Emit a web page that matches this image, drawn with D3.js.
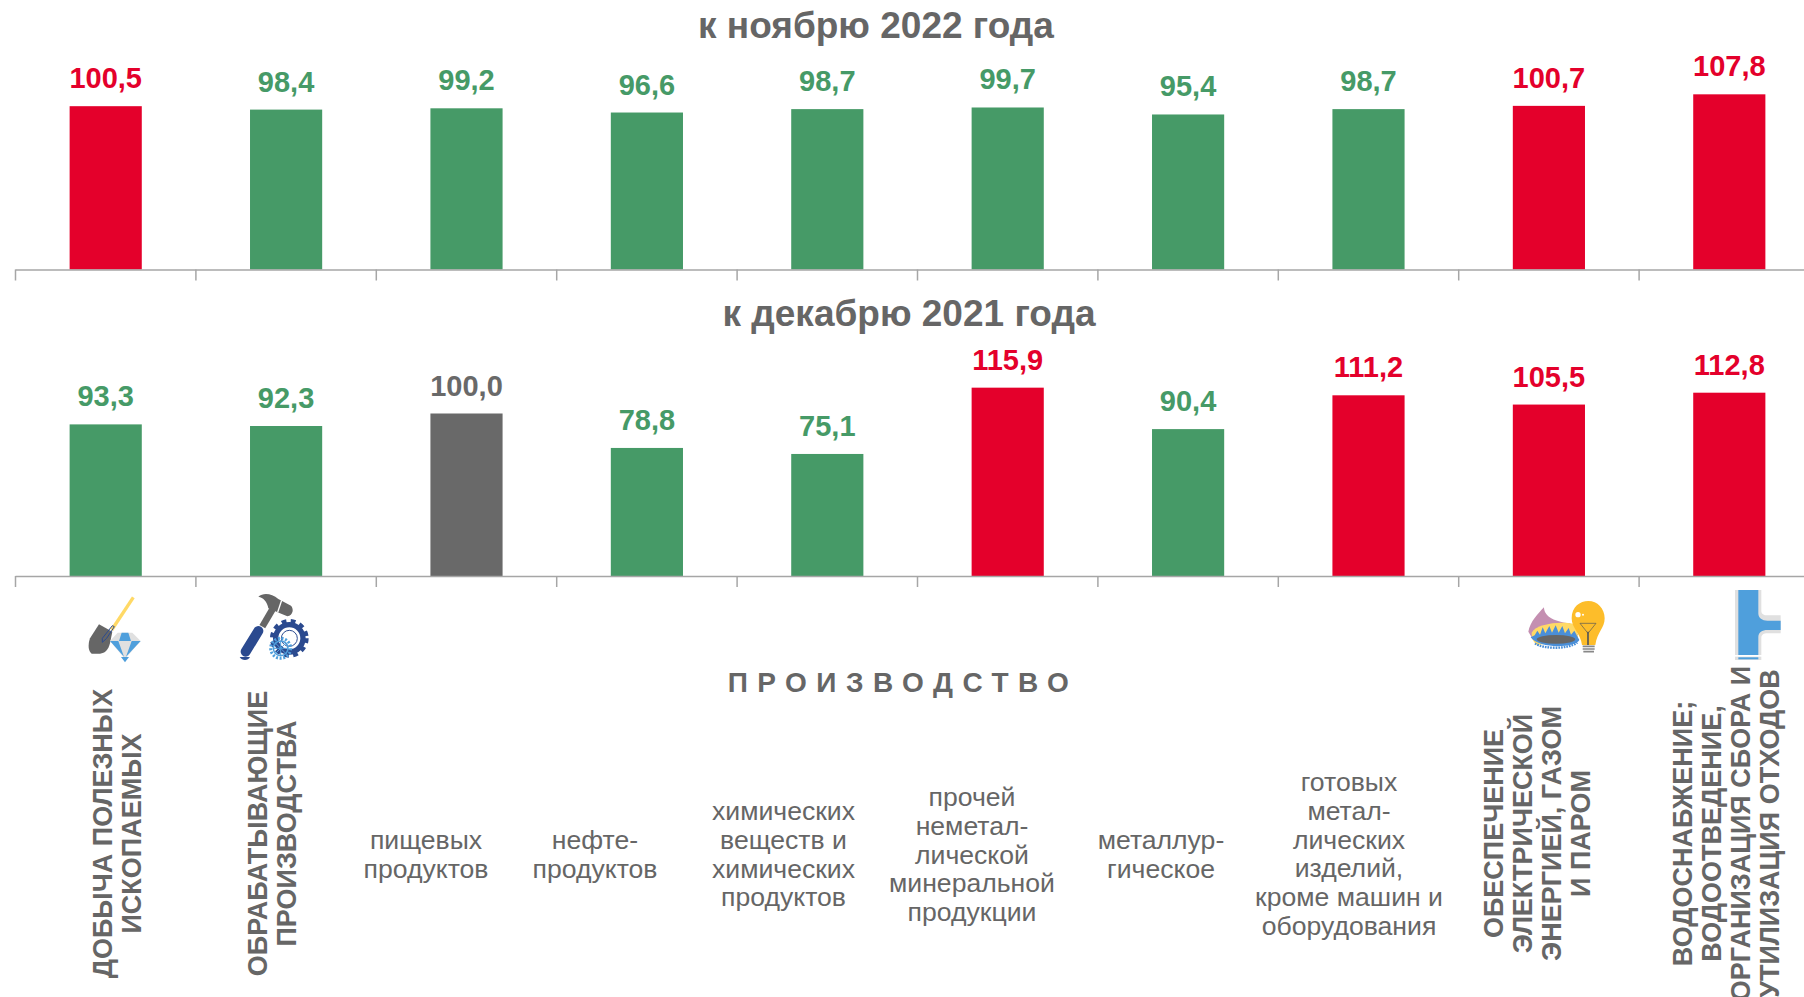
<!DOCTYPE html>
<html>
<head>
<meta charset="utf-8">
<script src="https://cdn.jsdelivr.net/npm/d3@7/dist/d3.min.js"></script>
<style>
    html, body { margin: 0; padding: 0; background: #fff; overflow: hidden; }
    text { font-family: "Liberation Sans", Arial, sans-serif; }
</style>
</head>
<body>
<svg id="chart" width="1804" height="997"></svg>
<script>
var categories = ["mining", "manufacturing", "food", "oil", "chemical", "mineral", "metallurgy", "metalware", "energy", "water"];
var novemberValues = [100.5, 98.4, 99.2, 96.6, 98.7, 99.7, 95.4, 98.7, 100.7, 107.8];
var decemberValues = [93.3, 92.3, 100.0, 78.8, 75.1, 115.9, 90.4, 111.2, 105.5, 112.8];
var titles = ["к ноябрю 2022 года", "к декабрю 2021 года"];

var rotatedLabels = [
    { index: 0, lines: ["ДОБЫЧА ПОЛЕЗНЫХ", "ИСКОПАЕМЫХ"] },
    { index: 1, lines: ["ОБРАБАТЫВАЮЩИЕ", "ПРОИЗВОДСТВА"] },
    { index: 8, lines: ["ОБЕСПЕЧЕНИЕ", "ЭЛЕКТРИЧЕСКОЙ", "ЭНЕРГИЕЙ, ГАЗОМ", "И ПАРОМ"] },
    { index: 9, lines: ["ВОДОСНАБЖЕНИЕ;", "ВОДООТВЕДЕНИЕ,", "ОРГАНИЗАЦИЯ СБОРА И", "УТИЛИЗАЦИЯ ОТХОДОВ"] }
];
var flatLabels = [
    ["пищевых", "продуктов"],
    ["нефте-", "продуктов"],
    ["химических", "веществ и", "химических", "продуктов"],
    ["прочей", "неметал-", "лической", "минеральной", "продукции"],
    ["металлур-", "гическое"],
    ["готовых", "метал-", "лических", "изделий,", "кроме машин и", "оборудования"]
];
var flatCentersX = [426, 595, 783.5, 972, 1161, 1349];

var red = "#e4002b", green = "#469a67", grey = "#696969", textGrey = "#666666";

var svg = d3.select("#chart");

var x = d3.scaleBand().domain(categories).range([15.5, 1819.5]).paddingInner(0.6).paddingOuter(0.3);
var tickScale = d3.scaleLinear().domain([0, categories.length]).range([15, 1819]);
var heightScale = d3.scaleLinear().domain([0, 100]).range([0, 162.5]);

function colorOf(v) {
    if (v > 100) return red;
    if (v < 100) return green;
    return grey;
}

function drawPanel(values, baseline, title, titleX, titleY) {
    var g = svg.append("g");

    g.selectAll("rect")
        .data(values)
        .enter()
        .append("rect")
        .attr("x", function (d, i) { return x(categories[i]); })
        .attr("y", function (d) { return baseline - heightScale(d); })
        .attr("width", x.bandwidth())
        .attr("height", function (d) { return heightScale(d); })
        .attr("fill", colorOf);

    g.selectAll("text.value")
        .data(values)
        .enter()
        .append("text")
        .attr("class", "value")
        .attr("x", function (d, i) { return x(categories[i]) + x.bandwidth() / 2; })
        .attr("y", function (d) { return baseline - heightScale(d) - 18; })
        .attr("text-anchor", "middle")
        .attr("font-size", 29)
        .attr("font-weight", "bold")
        .attr("fill", colorOf)
        .text(function (d) { return d.toFixed(1).replace(".", ","); });

    var axis = d3.axisBottom(tickScale)
        .tickValues(d3.range(categories.length + 1))
        .tickSize(11)
        .tickSizeOuter(0)
        .tickFormat("");
    var axisG = g.append("g").attr("transform", "translate(0," + baseline + ")").call(axis);
    axisG.selectAll("path, line").attr("stroke", "#a6a6a6").attr("stroke-width", 1.5);

    svg.append("text")
        .attr("x", titleX)
        .attr("y", titleY)
        .attr("text-anchor", "middle")
        .attr("font-size", 37)
        .attr("font-weight", "bold")
        .attr("fill", textGrey)
        .text(title);
}

drawPanel(novemberValues, 269.5, titles[0], 876, 38);
drawPanel(decemberValues, 576, titles[1], 909, 326);

svg.append("text")
    .attr("x", 903)
    .attr("y", 692)
    .attr("text-anchor", "middle")
    .attr("font-size", 28)
    .attr("font-weight", "bold")
    .attr("letter-spacing", 9.5)
    .attr("fill", textGrey)
    .text("ПРОИЗВОДСТВО");

// horizontal labels, centred around the same middle line where they can be
var lineHeight = 28.8;
var flatTops = [849, 849, 820, 806, 849, 791];
flatLabels.forEach(function (lines, i) {
    var t = svg.append("text")
        .attr("text-anchor", "middle")
        .attr("font-size", 26.6)
        .attr("fill", textGrey);
    lines.forEach(function (line, j) {
        t.append("tspan")
            .attr("x", flatCentersX[i])
            .attr("y", flatTops[i] + j * lineHeight)
            .text(line);
    });
});

// rotated section labels
var rotatedFirstX = { 0: 112, 1: 267, 8: 1503, 9: 1692 };
rotatedLabels.forEach(function (label) {
    label.lines.forEach(function (line, j) {
        svg.append("text")
            .attr("transform", "translate(" + (rotatedFirstX[label.index] + j * 29) + ",833.5) rotate(-90)")
            .attr("text-anchor", "middle")
            .attr("font-size", 27)
            .attr("font-weight", "bold")
            .attr("fill", textGrey)
            .text(line);
    });
});

// pictograms, drawn in 3x units of their crop
function icon(tx, ty) {
    return svg.append("g").attr("transform", "translate(" + tx + "," + ty + ") scale(0.3333)");
}

var shovel = icon(75, 585);
shovel.append("line").attr("x1", 110).attr("y1", 135).attr("x2", 175).attr("y2", 37)
    .attr("stroke", "#ffd966").attr("stroke-width", 10);
shovel.append("path").attr("d", "M72,118 L112,140 L105,175 C100,195 90,205 75,206 L50,206 C40,200 38,180 45,160 Z").attr("fill", "#666");
shovel.append("path").attr("d", "M112,122 L82,160 L82,172 L95,160 L118,125 Z").attr("fill", "none").attr("stroke", "#2b4a8f").attr("stroke-width", 3);
shovel.append("path").attr("d", "M128,143 L172,143 L197,168 L150,222 L105,168 Z").attr("fill", "#e0e0e0");
shovel.append("path").attr("d", "M140,143 L160,143 L168,168 L132,168 Z M105,168 L130,168 L147,215 Z M197,168 L170,168 L153,215 Z M138,216 L162,216 L150,232 Z").attr("fill", "#4f9fdc");

var hammer = icon(230, 585);
hammer.append("line").attr("x1", 128).attr("y1", 72).attr("x2", 97).attr("y2", 125)
    .attr("stroke", "#666").attr("stroke-width", 20);
hammer.append("path").attr("d", "M85,35 C100,22 125,25 145,42 L183,62 C192,72 190,90 172,94 L150,85 L115,70 C112,50 100,38 85,35 Z").attr("fill", "#666");
hammer.append("line").attr("x1", 155).attr("y1", 46).attr("x2", 143).attr("y2", 82).attr("stroke", "#fff").attr("stroke-width", 4);
hammer.append("line").attr("x1", 85).attr("y1", 138).attr("x2", 47).attr("y2", 200)
    .attr("stroke", "#2b4a8f").attr("stroke-width", 30).attr("stroke-linecap", "round");
hammer.append("path").attr("d", "M29,216 L60,216 C55,228 35,228 29,216 Z").attr("fill", "#2b4a8f");
hammer.append("circle").attr("cx", 178).attr("cy", 160).attr("r", 51).attr("fill", "none")
    .attr("stroke", "#2b4a8f").attr("stroke-width", 14).attr("stroke-dasharray", "14 13");
hammer.append("circle").attr("cx", 178).attr("cy", 160).attr("r", 41).attr("fill", "#fff")
    .attr("stroke", "#2b4a8f").attr("stroke-width", 16);
hammer.append("circle").attr("cx", 178).attr("cy", 160).attr("r", 24).attr("fill", "none").attr("stroke", "#2b4a8f").attr("stroke-width", 3);
hammer.append("circle").attr("cx", 152).attr("cy", 190).attr("r", 30).attr("fill", "none")
    .attr("stroke", "#4f9fdc").attr("stroke-width", 9).attr("stroke-dasharray", "6 5");
hammer.append("circle").attr("cx", 152).attr("cy", 190).attr("r", 22).attr("fill", "none").attr("stroke", "#4f9fdc").attr("stroke-width", 5);
hammer.append("path").attr("d", "M130,190 L174,190 M152,168 L152,212 M136,174 L168,206 M168,174 L136,206").attr("stroke", "#4f9fdc").attr("stroke-width", 3);

var burner = icon(1520, 590);
burner.append("path").attr("d", "M25,125 C30,95 55,70 72,52 C72,75 95,95 150,100 L175,135 L40,150 Z").attr("fill", "#c48fb1");
burner.append("path").attr("d", "M35,128 C50,100 130,92 170,104 L175,150 L50,165 C40,155 35,145 35,128 Z").attr("fill", "#ffd966");
burner.append("path").attr("d", "M32,142 L44,136 L52,122 L60,134 L68,112 L76,130 L88,108 L96,128 L107,106 L116,128 L127,108 L135,130 L146,114 L153,134 L163,122 L178,150 C170,172 60,180 32,142 Z").attr("fill", "#4a8fd8");
burner.append("ellipse").attr("cx", 108).attr("cy", 148).attr("rx", 58).attr("ry", 13).attr("fill", "#666");
burner.append("path").attr("d", "M45,160 C70,178 145,178 172,158").attr("fill", "none").attr("stroke", "#4a8fd8").attr("stroke-width", 7).attr("stroke-dasharray", "5 3");
burner.append("path").attr("d", "M155,85 C155,50 180,33 205,33 C232,33 254,55 254,85 C254,115 232,125 226,165 L186,165 C182,130 155,115 155,85 Z").attr("fill", "#fdbd2a");
burner.append("circle").attr("cx", 174).attr("cy", 74).attr("r", 8).attr("fill", "#fff");
burner.append("circle").attr("cx", 189).attr("cy", 74).attr("r", 3).attr("fill", "#fff");
burner.append("path").attr("d", "M180,100 L228,100 L204,130 Z").attr("fill", "none").attr("stroke", "#555").attr("stroke-width", 2);
burner.append("line").attr("x1", 204).attr("y1", 125).attr("x2", 204).attr("y2", 165).attr("stroke", "#555").attr("stroke-width", 5);
burner.append("path").attr("d", "M188,169 L224,169 M188,177 L224,177 M190,185 L222,185").attr("stroke", "#888").attr("stroke-width", 5);

var pipe = icon(1724, 580);
pipe.append("path").attr("d", "M33,30 L112,30 L112,92 C112,102 120,106 130,106 L170,106 L170,160 L130,160 C120,160 112,164 112,174 L112,225 L33,225 Z").attr("fill", "#e0e0e0");
pipe.append("path").attr("d", "M43,30 L103,30 L103,100 C103,115 115,122 130,122 L170,122 L170,150 L130,150 C115,150 103,157 103,172 L103,225 L43,225 Z").attr("fill", "#4f9fdc");
pipe.append("rect").attr("x", 33).attr("y", 230).attr("width", 79).attr("height", 10).attr("fill", "#e0e0e0");
pipe.append("rect").attr("x", 43).attr("y", 232).attr("width", 60).attr("height", 6).attr("fill", "#4f9fdc");
</script>
</body>
</html>
